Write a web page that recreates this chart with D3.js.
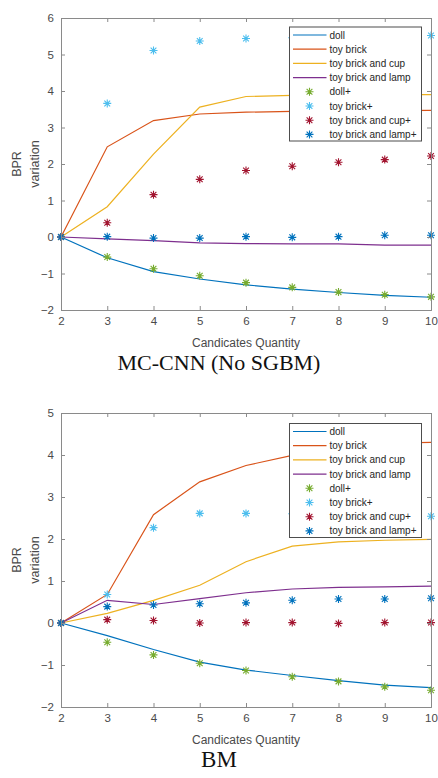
<!DOCTYPE html>
<html>
<head>
<meta charset="utf-8">
<script src="https://cdn.jsdelivr.net/npm/d3@7"></script>
<style>
  html, body { margin: 0; padding: 0; background: #fff; }
  svg { display: block; }
</style>
</head>
<body>
<svg id="chart" width="438" height="778"></svg>
<script>
// Candidate counts on the x axis
const candidates = [2, 3, 4, 5, 6, 7, 8, 9, 10];

// Series names (lines first, then the "+" marker series)
const lineNames = ["doll", "toy brick", "toy brick and cup", "toy brick and lamp"];
const markerNames = ["doll+", "toy brick+", "toy brick and cup+", "toy brick and lamp+"];

// MC-CNN (No SGBM) panel
const mcDoll      = [0, -0.57, -0.95, -1.15, -1.31, -1.43, -1.52, -1.60, -1.65];
const mcBrick     = [0, 2.47, 3.19, 3.37, 3.42, 3.44, 3.45, 3.46, 3.47];
const mcCup       = [0, 0.83, 2.27, 3.56, 3.85, 3.88, 3.89, 3.90, 3.90];
const mcLamp      = [0, -0.05, -0.10, -0.16, -0.18, -0.19, -0.19, -0.22, -0.22];
const mcDollP     = [0, -0.55, -0.87, -1.06, -1.25, -1.38, -1.51, -1.58, -1.64];
const mcBrickP    = [0, 3.66, 5.11, 5.37, 5.44, 5.46, 5.48, 5.50, 5.52];
const mcCupP      = [0, 0.39, 1.16, 1.58, 1.82, 1.94, 2.05, 2.12, 2.22];
const mcLampP     = [0, 0.01, -0.03, -0.03, 0.01, -0.01, 0.01, 0.05, 0.05];
const mcTicksY    = [-2, -1, 0, 1, 2, 3, 4, 5, 6];

// BM panel
const bmDoll      = [0, -0.30, -0.63, -0.93, -1.12, -1.25, -1.37, -1.48, -1.54];
const bmBrick     = [0, 0.68, 2.58, 3.36, 3.75, 3.99, 4.20, 4.28, 4.30];
const bmCup       = [0, 0.23, 0.54, 0.90, 1.46, 1.83, 1.93, 1.97, 1.99];
const bmLamp      = [0, 0.54, 0.44, 0.58, 0.72, 0.81, 0.85, 0.86, 0.88];
const bmDollP     = [0, -0.46, -0.76, -0.96, -1.13, -1.28, -1.39, -1.52, -1.60];
const bmBrickP    = [0, 0.68, 2.27, 2.61, 2.61, 2.60, 2.58, 2.56, 2.54];
const bmCupP      = [0, 0.08, 0.06, 0.00, 0.01, 0.01, -0.01, 0.01, 0.01];
const bmLampP     = [0, 0.39, 0.43, 0.46, 0.48, 0.54, 0.57, 0.57, 0.59];
const bmTicksY    = [-2, -1, 0, 1, 2, 3, 4, 5];

const xLabel = "Candicates Quantity";
const yLabelLines = ["BPR", "variation"];

// MATLAB default colour order
const lineColors = ["#0072BD", "#D95319", "#EDB120", "#7E2F8E"];
const markerColors = ["#77AC30", "#4DBEEE", "#A2142F", "#0072BD"];

const svg = d3.select("#chart");
const axisColor = "#8a8a8a";
const textColor = "#4a4a4a";

// Six-armed asterisk marker path
function asterisk(r) {
  const d = r * 0.72;
  return `M0,${-r}V${r}M${-r},0H${r}M${-d},${-d}L${d},${d}M${-d},${d}L${d},${-d}`;
}

function drawPanel(cfg) {
  const g = svg.append("g");
  const x = d3.scaleLinear().domain([2, 10]).range([61, 431]);
  const y = d3.scaleLinear().domain(cfg.yDomain).range([cfg.bottom, cfg.top]);

  // Axes box with inward ticks on all four sides
  const tick = 4;
  const bottomAxis = d3.axisBottom(x).tickValues(candidates).tickSize(-tick).tickPadding(7).tickFormat(d3.format("d"));
  const topAxis = d3.axisTop(x).tickValues(candidates).tickSize(-tick).tickFormat("");
  const leftAxis = d3.axisLeft(y).tickValues(cfg.ticksY).tickSize(-tick).tickPadding(7).tickFormat(d3.format("d"));
  const rightAxis = d3.axisRight(y).tickValues(cfg.ticksY).tickSize(-tick).tickFormat("");

  const styleAxis = sel => {
    sel.select(".domain").attr("stroke", axisColor).attr("stroke-width", 1);
    sel.selectAll(".tick line").attr("stroke", axisColor);
    sel.selectAll(".tick text").attr("fill", textColor)
      .style("font-family", "'Liberation Sans', Arial, sans-serif").style("font-size", "11.5px");
  };

  // Line series
  const line = d3.line().x((d, i) => x(candidates[i])).y(d => y(d));
  cfg.lines.forEach((vals, k) => {
    g.append("path").attr("d", line(vals)).attr("fill", "none")
      .attr("stroke", lineColors[k]).attr("stroke-width", 1.2);
  });

  // Marker series
  cfg.markers.forEach((vals, k) => {
    g.append("g").selectAll("path").data(vals).join("path")
      .attr("transform", (d, i) => `translate(${x(candidates[i])},${y(d)})`)
      .attr("d", asterisk(4))
      .attr("stroke", markerColors[k]).attr("stroke-width", 1.1).attr("fill", "none");
  });

  g.append("g").attr("transform", `translate(0,${cfg.bottom})`).call(bottomAxis).call(styleAxis);
  g.append("g").attr("transform", `translate(0,${cfg.top})`).call(topAxis).call(styleAxis);
  g.append("g").attr("transform", `translate(61,0)`).call(leftAxis).call(styleAxis);
  g.append("g").attr("transform", `translate(431,0)`).call(rightAxis).call(styleAxis);
  g.selectAll(".domain").attr("stroke-width", 1);

  // Axis titles
  g.append("text").attr("x", 246).attr("y", cfg.bottom + 37)
    .attr("text-anchor", "middle").attr("fill", textColor)
    .style("font-family", "'Liberation Sans', Arial, sans-serif").style("font-size", "12px")
    .text(xLabel);
  const yMid = (cfg.top + cfg.bottom) / 2;
  yLabelLines.forEach((t, i) => {
    g.append("text").attr("transform", `translate(${21 + i * 18},${yMid}) rotate(-90)`)
      .attr("text-anchor", "middle").attr("fill", textColor)
      .style("font-family", "'Liberation Sans', Arial, sans-serif").style("font-size", "12.5px")
      .text(t);
  });

  // Legend
  const lg = g.append("g").attr("transform", `translate(289.5,${cfg.legendTop})`);
  lg.append("rect").attr("width", 132).attr("height", 114)
    .attr("fill", "#fff").attr("stroke", "#4d4d4d").attr("stroke-width", 1);
  const entries = lineNames.map((n, k) => ({ name: n, kind: "line", color: lineColors[k] }))
    .concat(markerNames.map((n, k) => ({ name: n, kind: "marker", color: markerColors[k] })));
  entries.forEach((e, i) => {
    const cy = 8 + i * 14.2;
    if (e.kind === "line") {
      lg.append("line").attr("x1", 3.5).attr("x2", 37).attr("y1", cy).attr("y2", cy)
        .attr("stroke", e.color).attr("stroke-width", 1.2);
    } else {
      lg.append("path").attr("transform", `translate(20,${cy})`).attr("d", asterisk(4))
        .attr("stroke", e.color).attr("stroke-width", 1.1).attr("fill", "none");
    }
    lg.append("text").attr("x", 40).attr("y", cy).attr("dy", "0.35em")
      .attr("fill", "#262626")
      .style("font-family", "'Liberation Sans', Arial, sans-serif").style("font-size", "10px")
      .text(e.name);
  });

  // Panel caption
  svg.append("text").attr("x", 219).attr("y", cfg.captionY)
    .attr("text-anchor", "middle").attr("fill", "#111")
    .style("font-family", "'Liberation Serif', 'Times New Roman', serif").style("font-size", cfg.captionSize)
    .text(cfg.caption);
}

drawPanel({
  top: 18, bottom: 310, yDomain: [-2, 6], ticksY: mcTicksY,
  lines: [mcDoll, mcBrick, mcCup, mcLamp],
  markers: [mcDollP, mcBrickP, mcCupP, mcLampP],
  legendTop: 27, caption: "MC-CNN (No SGBM)", captionY: 370, captionSize: "22px"
});

drawPanel({
  top: 413, bottom: 707, yDomain: [-2, 5], ticksY: bmTicksY,
  lines: [bmDoll, bmBrick, bmCup, bmLamp],
  markers: [bmDollP, bmBrickP, bmCupP, bmLampP],
  legendTop: 423.5, caption: "BM", captionY: 767, captionSize: "23px"
});
</script>
</body>
</html>
